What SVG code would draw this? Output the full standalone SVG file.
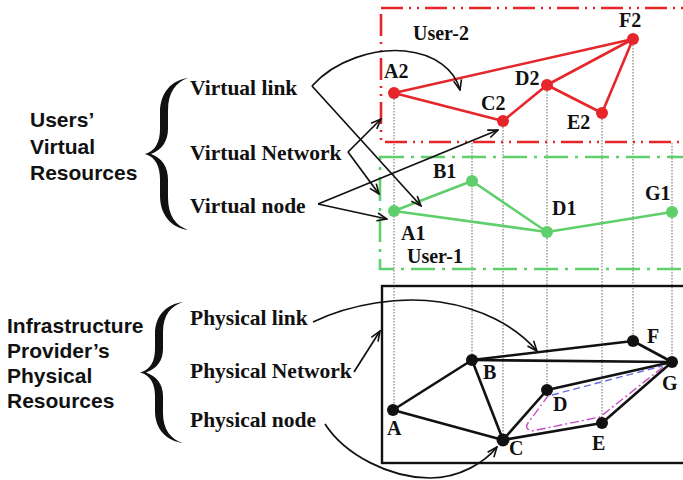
<svg xmlns="http://www.w3.org/2000/svg" width="683" height="480" viewBox="0 0 683 480">
  <style>
    .title { font-family: "Liberation Sans", Arial, sans-serif; font-weight: bold; font-size: 21px; fill: #111; }
    .label { font-family: "Liberation Serif", "Times New Roman", serif; font-weight: bold; font-size: 21.5px; fill: #111; }
    .nlabel { font-family: "Liberation Serif", "Times New Roman", serif; font-weight: bold; font-size: 20px; fill: #111; }
    .drop { stroke: #666; stroke-width: 1; stroke-dasharray: 1.5 1.5; fill: none; }
    .vred { stroke: #e5262b; stroke-width: 2.6; fill: none; }
    .vgreen { stroke: #5fcf6c; stroke-width: 2.6; fill: none; }
    .phys { stroke: #111; stroke-width: 2.6; fill: none; }
    .ptr { stroke: #111; stroke-width: 1.7; fill: none; marker-end: url(#open); }
    .rn { fill: #e5262b; }
    .gn { fill: #5fcf6c; }
    .bn { fill: #111; }
  </style>
  <defs>
    <marker id="open" viewBox="0 0 12 10" refX="11" refY="5" markerWidth="12" markerHeight="10" markerUnits="userSpaceOnUse" orient="auto">
      <path d="M1,1 L11,5 L1,9" fill="none" stroke="#111" stroke-width="1.6"/>
    </marker>
    <!-- curly brace, tip at origin, spanning y -75..75 -->
    <path id="brace" d="M43,-75 C27,-73 15,-61 15,-41 L15,-25 C15,-13 11,-3 0,0 C11,3 15,13 15,25 L15,41 C15,61 27,73 43,75 C31,71 23,61 23,43 L23,25 C23,13 17,4 6,0 C17,-4 23,-13 23,-25 L23,-43 C23,-61 31,-71 43,-75 Z" fill="#111"/>
  </defs>

  <rect width="683" height="480" fill="#fff"/>

  <!-- left-hand titles -->
  <g id="users-virtual-resources">
    <text class="title" x="30" y="127">Users’</text>
    <text class="title" x="30" y="154">Virtual</text>
    <text class="title" x="30" y="180">Resources</text>
    <use href="#brace" transform="translate(145,154) scale(1,1.013)"/>
  </g>
  <g id="infrastructure-physical-resources">
    <text class="title" x="7" y="333">Infrastructure</text>
    <text class="title" x="7" y="358">Provider’s</text>
    <text class="title" x="7" y="383">Physical</text>
    <text class="title" x="7" y="408">Resources</text>
    <use href="#brace" transform="translate(140,372.5) scale(1,0.94)"/>
  </g>

  <!-- resource labels -->
  <g id="label-virtual-link"><text class="label" x="190" y="95">Virtual link</text></g>
  <g id="label-virtual-network"><text class="label" x="190" y="160">Virtual Network</text></g>
  <g id="label-virtual-node"><text class="label" x="190" y="213">Virtual node</text></g>
  <g id="label-physical-link"><text class="label" x="190" y="325">Physical link</text></g>
  <g id="label-physical-network"><text class="label" x="190" y="378">Physical Network</text></g>
  <g id="label-physical-node"><text class="label" x="190" y="427">Physical node</text></g>

  <!-- vertical mapping lines -->
  <g id="mapping">
    <line class="drop" x1="394" y1="93" x2="394" y2="410"/>
    <line class="drop" x1="472" y1="143" x2="472" y2="360"/>
    <line class="drop" x1="503" y1="121" x2="503" y2="440"/>
    <line class="drop" x1="547" y1="85" x2="547" y2="390"/>
    <line class="drop" x1="602" y1="113" x2="602" y2="423"/>
    <line class="drop" x1="633" y1="39" x2="633" y2="341"/>
    <line class="drop" x1="672" y1="143" x2="672" y2="362"/>
  </g>

  <!-- planes -->
  <g id="plane-user-2">
    <rect x="381" y="8" width="320" height="134" fill="none" stroke="#e5262b" stroke-width="2.6" stroke-dasharray="22 6 2 6 2 6"/>
    <text class="nlabel" x="413" y="40">User-2</text>
  </g>
  <g id="plane-user-1">
    <rect x="380" y="157" width="320" height="112" fill="none" stroke="#5fcf6c" stroke-width="2.6" stroke-dasharray="24 7 3 7"/>
    <text class="nlabel" x="407" y="263">User-1</text>
  </g>
  <g id="plane-physical">
    <rect x="382" y="286" width="320" height="177" fill="none" stroke="#111" stroke-width="2.4"/>
  </g>

  <!-- links -->
  <g id="links">
    <g id="links-user-2">
      <line class="vred" x1="394" y1="93" x2="633" y2="39"/>
      <line class="vred" x1="394" y1="93" x2="503" y2="121"/>
      <line class="vred" x1="503" y1="121" x2="547" y2="85"/>
      <line class="vred" x1="547" y1="85" x2="633" y2="39"/>
      <line class="vred" x1="547" y1="85" x2="602" y2="113"/>
      <line class="vred" x1="602" y1="113" x2="633" y2="39"/>
    </g>
    <g id="links-user-1">
      <line class="vgreen" x1="394" y1="211" x2="472" y2="181"/>
      <line class="vgreen" x1="472" y1="181" x2="547" y2="232"/>
      <line class="vgreen" x1="394" y1="211" x2="547" y2="232"/>
      <line class="vgreen" x1="547" y1="232" x2="672" y2="212"/>
    </g>
    <g id="links-physical">
      <line class="phys" x1="393" y1="410" x2="472" y2="360"/>
      <line class="phys" x1="393" y1="410" x2="503" y2="440"/>
      <line class="phys" x1="472" y1="360" x2="503" y2="440"/>
      <line class="phys" x1="472" y1="360" x2="672" y2="362"/>
      <line class="phys" x1="472" y1="360" x2="633" y2="341"/>
      <line class="phys" x1="633" y1="341" x2="672" y2="362"/>
      <line class="phys" x1="503" y1="440" x2="547" y2="390"/>
      <line class="phys" x1="547" y1="390" x2="672" y2="362"/>
      <line class="phys" x1="503" y1="440" x2="602" y2="423"/>
      <line class="phys" x1="602" y1="423" x2="672" y2="362"/>
    </g>
    <!-- embedded paths of the virtual links -->
    <path d="M552,395 L662,366" fill="none" stroke="#6a6ad8" stroke-width="1.4" stroke-dasharray="7 4"/>
    <path d="M663,367 L600,417 L532,431 Q524,429 528,423 L548,396" fill="none" stroke="#c44fc4" stroke-width="1.4" stroke-dasharray="9 3 2 3"/>
  </g>

  <!-- nodes -->
  <g id="node-A2"><circle class="rn" cx="394" cy="93" r="6"/><text class="nlabel" x="384" y="78">A2</text></g>
  <g id="node-C2"><circle class="rn" cx="503" cy="121" r="6"/><text class="nlabel" x="481" y="110">C2</text></g>
  <g id="node-D2"><circle class="rn" cx="547" cy="85" r="6"/><text class="nlabel" x="515" y="85">D2</text></g>
  <g id="node-E2"><circle class="rn" cx="602" cy="113" r="6"/><text class="nlabel" x="567" y="129">E2</text></g>
  <g id="node-F2"><circle class="rn" cx="633" cy="39" r="6"/><text class="nlabel" x="619" y="27">F2</text></g>

  <g id="node-A1"><circle class="gn" cx="394" cy="211" r="6"/><text class="nlabel" x="401" y="240">A1</text></g>
  <g id="node-B1"><circle class="gn" cx="472" cy="181" r="6"/><text class="nlabel" x="433" y="178">B1</text></g>
  <g id="node-D1"><circle class="gn" cx="547" cy="232" r="6"/><text class="nlabel" x="552" y="215">D1</text></g>
  <g id="node-G1"><circle class="gn" cx="672" cy="212" r="6"/><text class="nlabel" x="645" y="200">G1</text></g>

  <g id="node-A"><circle class="bn" cx="393" cy="410" r="6"/><text class="nlabel" x="387" y="435">A</text></g>
  <g id="node-B"><circle class="bn" cx="472" cy="360" r="6"/><text class="nlabel" x="483" y="379">B</text></g>
  <g id="node-C"><circle class="bn" cx="503" cy="440" r="6.5"/><text class="nlabel" x="509" y="455">C</text></g>
  <g id="node-D"><circle class="bn" cx="547" cy="390" r="6"/><text class="nlabel" x="553" y="411">D</text></g>
  <g id="node-E"><circle class="bn" cx="602" cy="423" r="6"/><text class="nlabel" x="592" y="450">E</text></g>
  <g id="node-F"><circle class="bn" cx="633" cy="341" r="6"/><text class="nlabel" x="647" y="343">F</text></g>
  <g id="node-G"><circle class="bn" cx="672" cy="362" r="6"/><text class="nlabel" x="662" y="390">G</text></g>

  <!-- pointers from labels -->
  <g id="connectors">
    <path class="ptr" d="M312,86 C335,60 375,48 405,51 C435,54 455,70 460,90"/>
    <path class="ptr" d="M312,86 L421,206"/>
    <path class="ptr" d="M348,152 L381,119"/>
    <path class="ptr" d="M348,152 L379,194"/>
    <path class="ptr" d="M318,204 L498,130"/>
    <path class="ptr" d="M318,204 L387,219"/>
    <path class="ptr" d="M313,322 C350,304 400,296 440,302 C480,308 515,325 537,351"/>
    <path class="ptr" d="M354,372 L380,331"/>
    <path class="ptr" d="M325,424 C345,455 390,478 430,478 C460,478 485,462 497,447"/>
  </g>
</svg>
